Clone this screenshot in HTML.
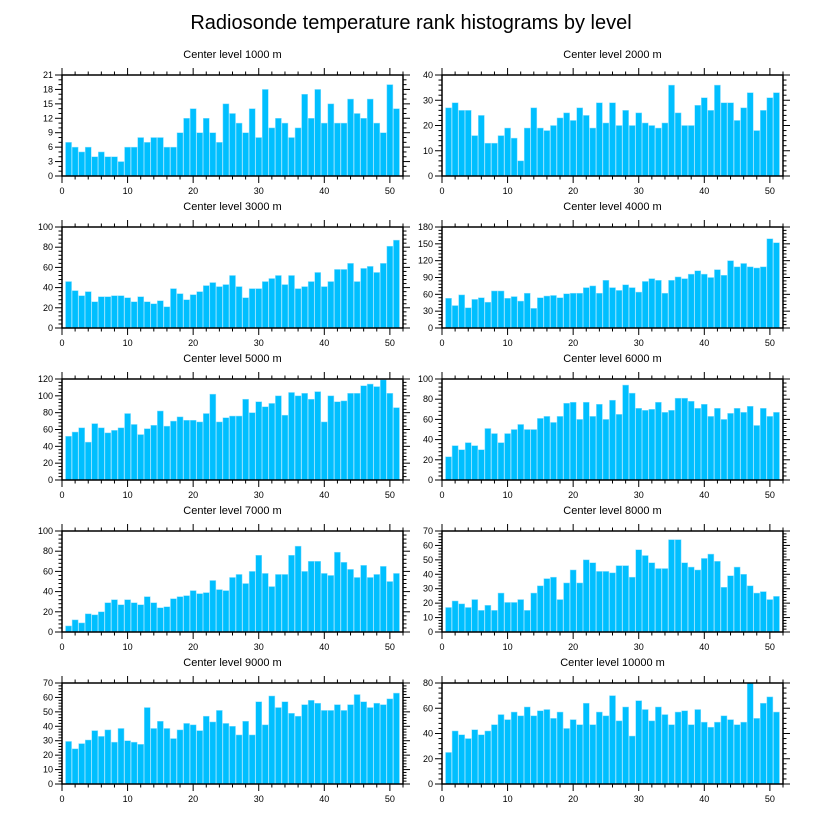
<!DOCTYPE html>
<html><head><meta charset="utf-8"><style>
html,body{margin:0;padding:0;background:#fff;}
svg{display:block;font-family:"Liberation Sans",sans-serif;}
</style></head><body>
<svg id="chart" width="822" height="824" viewBox="0 0 822 824" xmlns="http://www.w3.org/2000/svg">
<text x="411" y="29" text-anchor="middle" font-size="20">Radiosonde temperature rank histograms by level</text>
</svg>
<script>
const levels = ["1000","2000","3000","4000","5000","6000","7000","8000","9000","10000"];
const yMaxes = [21,40,100,180,120,100,100,70,70,80];
const yMajors = [3,10,20,30,20,20,20,10,10,20];
const yMinors = [1,2,4,6,4,4,4,2,2,4];
const xTicks = [0,10,20,30,40,50];
const v1000 = [7,6,5,6,4,5,4,4,3,6,6,8,7,8,8,6,6,9,12,14,9,12,9,7,15,13,11,9,14,8,18,10,12,11,8,10,17,12,18,11,15,11,11,16,13,12,16,11,9,19,14];
const v2000 = [27,29,26,26,16,24,13,13,16,19,15,6,19,27,19,18,20,23,25,22,27,24,19,29,21,29,20,26,20,25,21,20,19,21,36,25,20,20,28,31,26,36,29,29,22,27,33,18,26,31,33];
const v3000 = [46,37,32,36,26,31,31,32,32,30,26,31,26,24,27,21,39,34,28,33,36,42,45,41,43,52,41,30,39,39,46,49,52,43,52,39,41,46,55,41,46,58,58,64,46,59,61,55,64,81,87];
const v4000 = [53,40,59,36,51,54,46,66,66,53,56,48,62,35,54,57,58,54,61,62,62,72,75,62,85,72,67,77,72,64,83,88,85,62,85,91,88,96,102,96,90,104,94,120,109,115,109,107,109,159,152];
const v5000 = [52,57,62,45,67,62,56,59,62,79,66,54,61,65,82,64,70,75,71,71,69,79,102,69,74,76,76,96,80,93,87,91,100,77,104,100,103,96,105,69,100,93,94,103,103,112,114,111,119,103,86];
const v6000 = [23,34,30,37,34,30,51,46,37,46,50,55,50,50,61,63,57,63,76,77,60,77,63,75,60,79,65,94,86,71,69,70,77,67,69,81,81,78,71,75,63,71,60,66,71,67,73,54,71,63,67];
const v7000 = [6,12,9,18,17,20,29,32,27,32,29,27,35,29,24,25,33,35,36,41,38,39,51,42,41,54,57,48,60,76,58,45,57,57,76,85,60,70,70,58,56,79,69,62,54,66,54,57,65,50,58];
const v8000 = [17,21.5,19.5,17,22.5,15,18.5,15,27,20.5,20.5,22.5,15,27,32,37,38,22.5,34,43,34,50,48,42,42,41,46,46,38,57,53,48,44,44,64,64,48,45,43,51,54,49,31,39,45,40,32,27,28,22.5,24.7];
const v9000 = [29.5,24.4,28,30.5,37,33,37.5,29,38.5,30,29,27.5,53,38.5,43.5,38.5,31.5,37.5,42,41,37,47,43,51,42,40,34,43.5,34,57,41,61,53,57,49,47,55,58,56,51,51,55,51,55,62,57,53,56,55,59,63];
const v10000 = [25,42,39,36,43,39,42,47,55,51,57,54,61,54,58,59,52,57,44,51,47,64,47,57,54,70,50,61,38,66,59,50,61,55,47,57,58,47,59,49,45,49,54,51,47,49,80,52,64,69,57];
const seriesList = [v1000,v2000,v3000,v4000,v5000,v6000,v7000,v8000,v9000,v10000];

const NS = "http://www.w3.org/2000/svg";
const svg = document.getElementById("chart");
function mk(tag, attrs, parent){ const e=document.createElementNS(NS,tag); for(const k in attrs) e.setAttribute(k,attrs[k]); parent.appendChild(e); return e; }

for (let p=0;p<10;p++){
  const col=p%2, row=Math.floor(p/2);
  const L = col===0?62:442, R = col===0?403:783;
  const T = 75+152*row, B = 176+152*row;
  const xMax=52, yMax=yMaxes[p];
  const sx = v => L + (v/xMax)*(R-L);
  const sy = v => B - (v/yMax)*(B-T);
  const g = mk("g",{},svg);
  
  
  const t = mk("text",{x:(L+R)/2,y:T-17,"text-anchor":"middle","font-size":"11"},g);
  t.textContent = "Center level "+levels[p]+" m";
  
  
  const vals = seriesList[p];
  for (let i=0;i<vals.length;i++){
    const c=i+1, w=0.92;
    const r = mk("rect",{x:sx(c-w/2),y:sy(vals[i]),width:sx(c+w/2)-sx(c-w/2),height:B-sy(vals[i]),fill:"#00bfff",stroke:"#8fe0ff","stroke-width":"0.5"},g);
    
    
  }
  // frame
  const f = mk("rect",{x:L,y:T,width:R-L,height:B-T,fill:"none",stroke:"#000","stroke-width":"1.5"},g);
  
  
  // x ticks
  for (let v=0; v<=xMax; v+=2){
    const major = v%10===0, len = major?7:3.5, x=sx(v);
    mk("line",{x1:x,y1:B,x2:x,y2:B+len,stroke:"#000","stroke-width":"1"},g);
    mk("line",{x1:x,y1:T,x2:x,y2:T-len,stroke:"#000","stroke-width":"1"},g);
  }
  for (const v of xTicks){
    const tx = mk("text",{x:sx(v),y:B+18,"text-anchor":"middle","font-size":"9"},g);
    tx.textContent = v;
    
    
  }
  // y ticks
  const mj=yMajors[p], mn=yMinors[p];
  for (let v=0; v<=yMax+1e-9; v+=mn){
    const major = Math.abs(v/mj - Math.round(v/mj))<1e-6, len = major?7:3.5, y=sy(v);
    mk("line",{x1:L,y1:y,x2:L-len,y2:y,stroke:"#000","stroke-width":"1"},g);
    mk("line",{x1:R,y1:y,x2:R+len,y2:y,stroke:"#000","stroke-width":"1"},g);
  }
  for (let v=0; v<=yMax+1e-9; v+=mj){
    const ty = mk("text",{x:L-9,y:sy(v)+3,"text-anchor":"end","font-size":"9"},g);
    ty.textContent = v;
    
    
  }
}
</script>
</body></html>
